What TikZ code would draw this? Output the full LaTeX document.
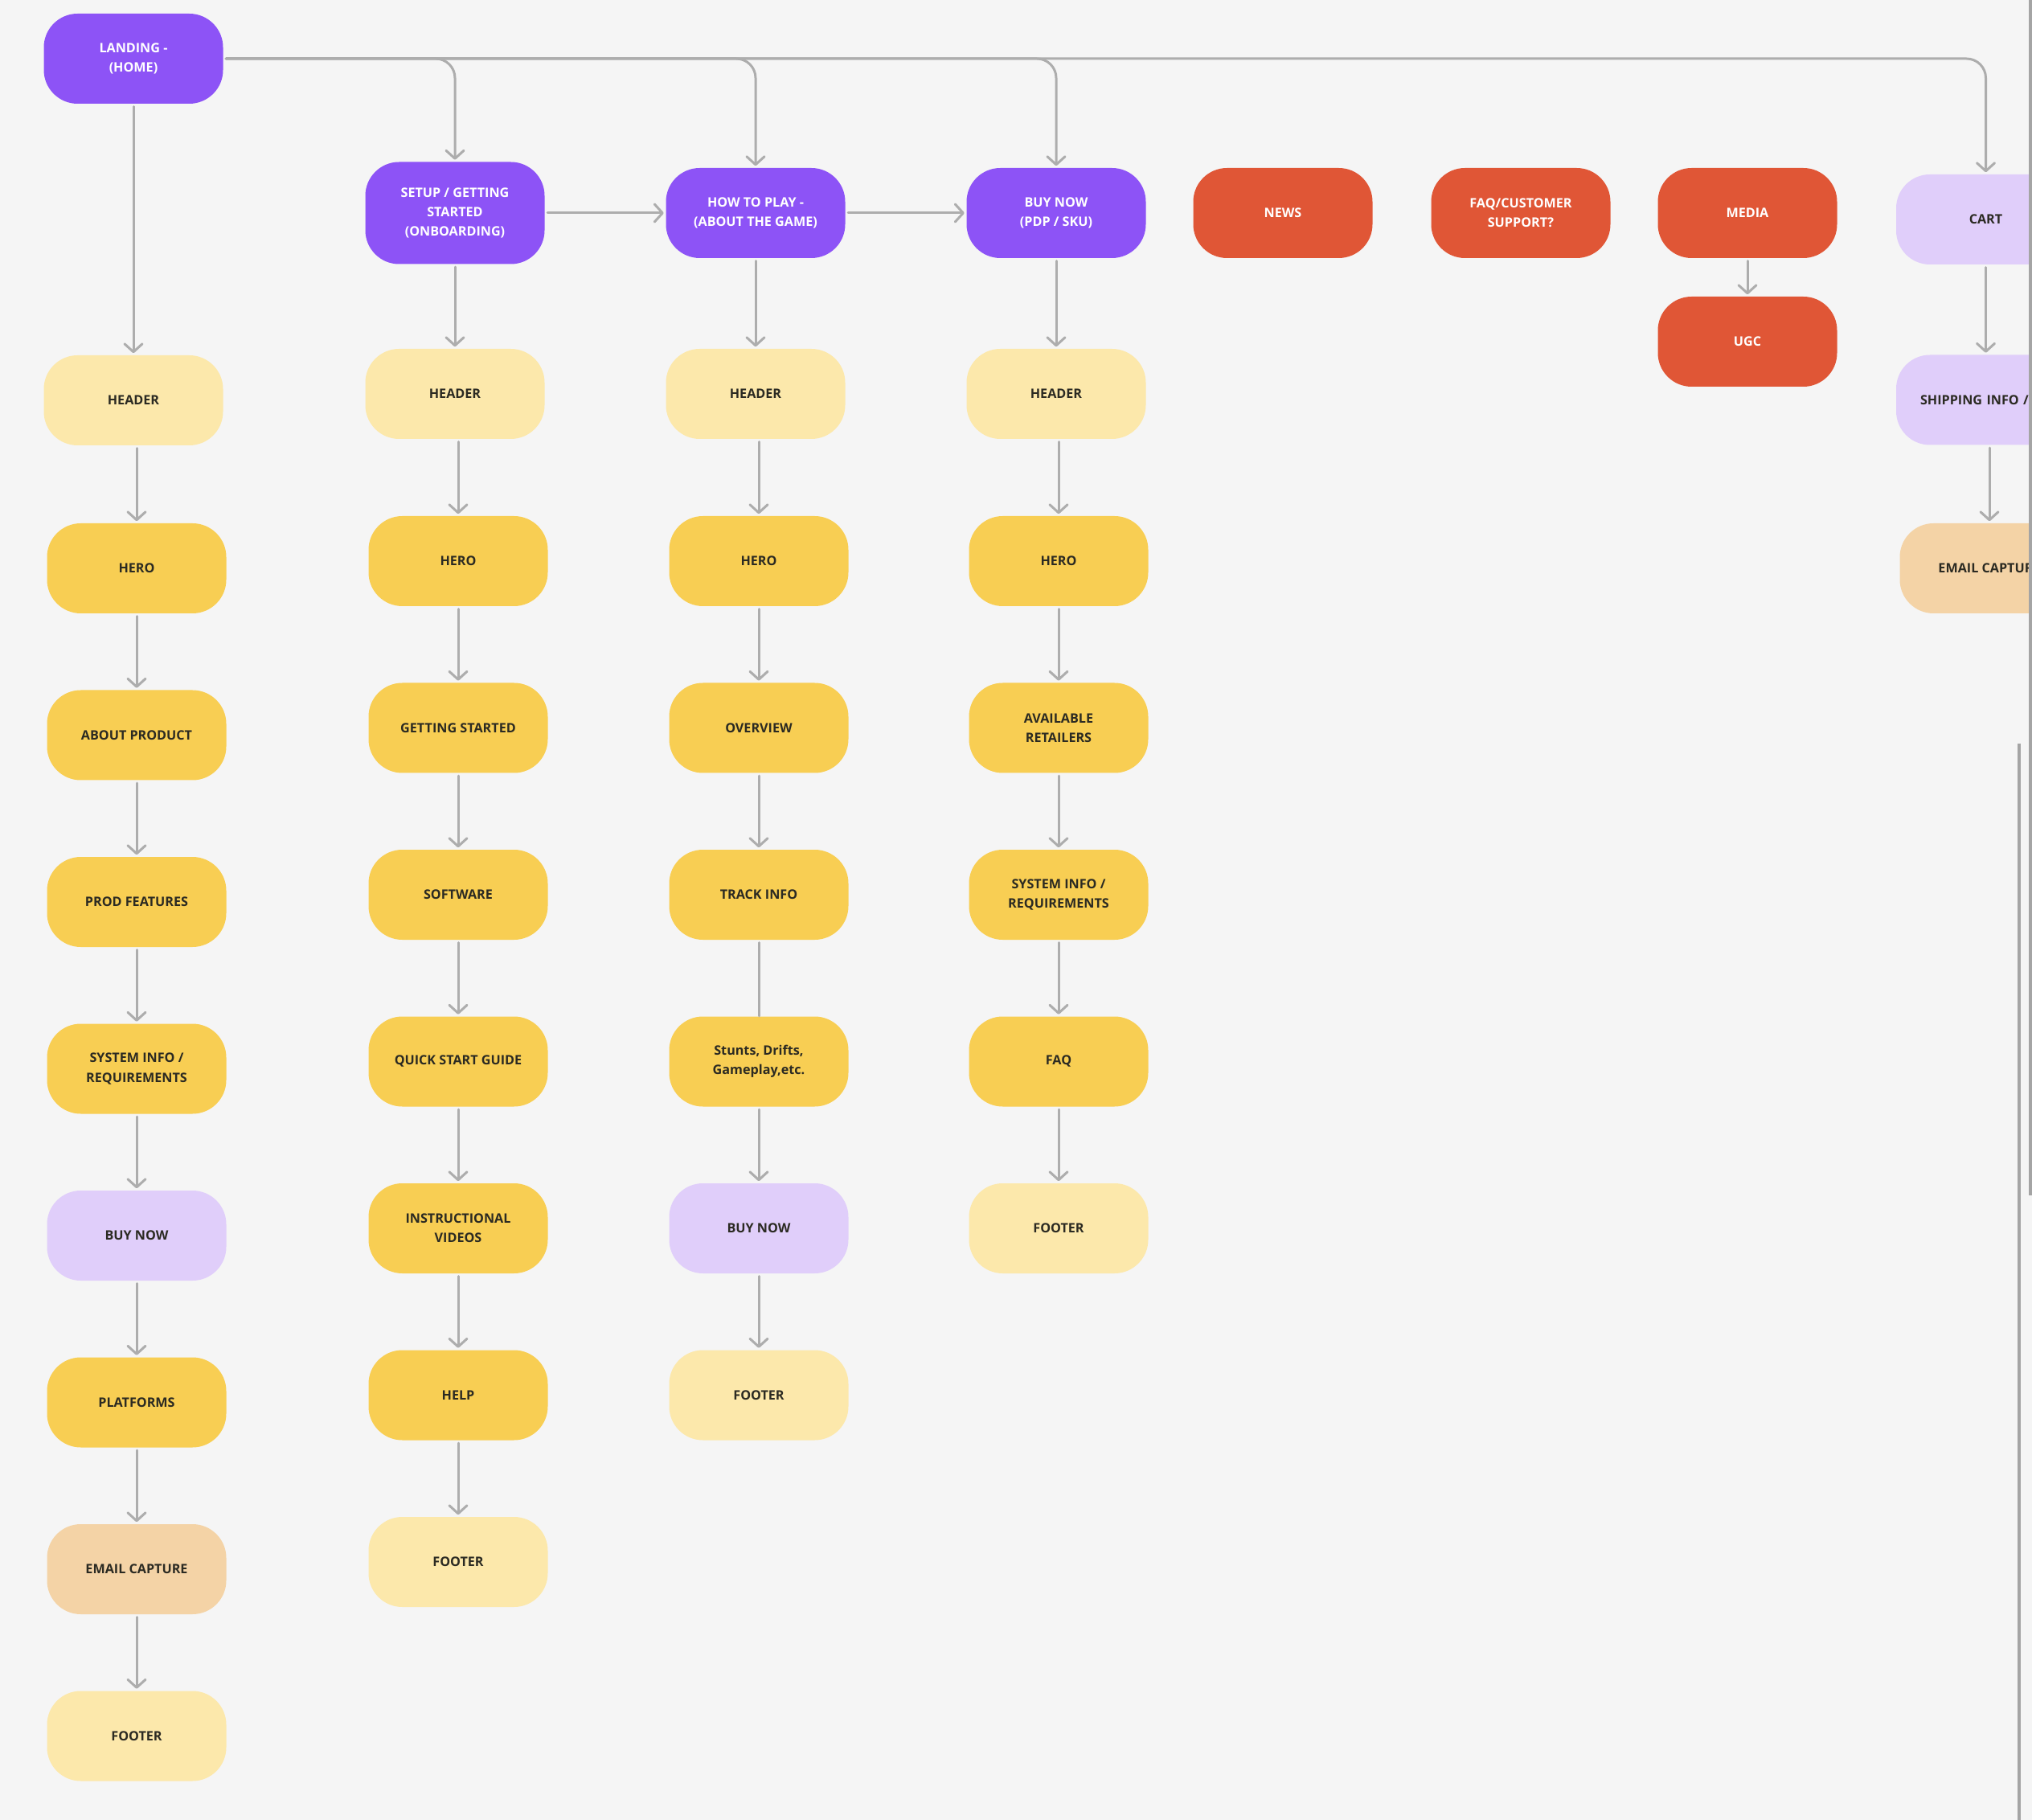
\documentclass[tikz,border=0pt]{standalone}
\usepackage{fontspec}
\usepackage{xcolor}
\usetikzlibrary{arrows.meta}
\newfontfamily\uifont{Open Sans}

\definecolor{canvas}{HTML}{F5F5F5}
\definecolor{violet}{HTML}{8D53F6}
\definecolor{brick}{HTML}{E05636}
\definecolor{pale}{HTML}{FCE8AB}
\definecolor{mustard}{HTML}{F8CE53}
\definecolor{lilac}{HTML}{E0CEFA}
\definecolor{peach}{HTML}{F4D3A6}
\definecolor{wire}{HTML}{ADADAD}
\definecolor{ink}{HTML}{2B2A22}

\tikzset{
  box/.style={rounded corners=0.42cm, minimum width=2.23cm, minimum height=1.12cm,
    inner sep=0pt, align=center, text=ink,
    font=\uifont\bfseries\fontsize{4.6}{6.9}\selectfont},
  pagebox/.style={box, fill=violet, text=white},
  hotbox/.style={box, fill=brick, text=white},
  palebox/.style={box, fill=pale},
  secbox/.style={box, fill=mustard},
  buybox/.style={box, fill=lilac},
  mailbox/.style={box, fill=peach},
  wireline/.style={draw=wire, line width=0.03cm, line cap=round, shorten <=0.03cm, shorten >=0.02cm},
  link/.style={wireline, -{Straight Barb[length=0.1cm,width=0.22cm,round]}},
}

\begin{document}
\begin{tikzpicture}
\useasboundingbox (0,0) rectangle (25.28,-22.64);
\clip (0,0) rectangle (25.28,-22.64);
\fill[canvas] (0,0) rectangle (25.28,-22.64);

% top level pages
\node[pagebox] (landing) at (1.66,-0.73) {LANDING -\\(HOME)};
\node[pagebox,minimum height=1.27cm] (setup) at (5.66,-2.65) {SETUP / GETTING\\STARTED\\(ONBOARDING)};
\node[pagebox] (howto) at (9.40,-2.65) {HOW TO PLAY -\\(ABOUT THE GAME)};
\node[pagebox] (pdp) at (13.14,-2.65) {BUY NOW\\(PDP / SKU)};
\node[hotbox] (news) at (15.96,-2.65) {NEWS};
\node[hotbox] (support) at (18.92,-2.65) {FAQ/CUSTOMER\\SUPPORT?};
\node[hotbox] (media) at (21.74,-2.65) {MEDIA};
\node[hotbox] (ugc) at (21.74,-4.25) {UGC};
\node[buybox] (cart) at (24.705,-2.73) {CART};
\node[buybox,text width=1.63cm,align=left] (ship) at (24.705,-4.975) {SHIPPING INFO / F};
\node[mailbox] (cartmail) at (24.75,-7.07) {EMAIL CAPTURE};

% landing sections
\node[palebox] (lhead) at (1.66,-4.98) {HEADER};
\node[secbox] (lhero) at (1.70,-7.07) {HERO};
\node[secbox] (labout) at (1.70,-9.145) {ABOUT PRODUCT};
\node[secbox] (lfeat) at (1.70,-11.22) {PROD FEATURES};
\node[secbox] (lsys) at (1.70,-13.295) {SYSTEM INFO /\\REQUIREMENTS};
\node[buybox] (lbuy) at (1.70,-15.37) {BUY NOW};
\node[secbox] (lplat) at (1.70,-17.445) {PLATFORMS};
\node[mailbox] (lmail) at (1.70,-19.52) {EMAIL CAPTURE};
\node[palebox] (lfoot) at (1.70,-21.595) {FOOTER};

% setup sections
\node[palebox] (shead) at (5.66,-4.90) {HEADER};
\node[secbox] (shero) at (5.70,-6.98) {HERO};
\node[secbox] (sstart) at (5.70,-9.055) {GETTING STARTED};
\node[secbox] (ssoft) at (5.70,-11.13) {SOFTWARE};
\node[secbox] (squick) at (5.70,-13.205) {QUICK START GUIDE};
\node[secbox] (svid) at (5.70,-15.28) {INSTRUCTIONAL\\VIDEOS};
\node[secbox] (shelp) at (5.70,-17.355) {HELP};
\node[palebox] (sfoot) at (5.70,-19.43) {FOOTER};

% how to play sections
\node[palebox] (phead) at (9.40,-4.90) {HEADER};
\node[secbox] (phero) at (9.44,-6.98) {HERO};
\node[secbox] (pover) at (9.44,-9.055) {OVERVIEW};
\node[secbox] (ptrack) at (9.44,-11.13) {TRACK INFO};
\node[secbox] (pstunt) at (9.44,-13.205) {Stunts, Drifts,\\Gameplay,etc.};
\node[buybox] (pbuy) at (9.44,-15.28) {BUY NOW};
\node[palebox] (pfoot) at (9.44,-17.355) {FOOTER};

% buy now sections
\node[palebox] (bhead) at (13.14,-4.90) {HEADER};
\node[secbox] (bhero) at (13.17,-6.98) {HERO};
\node[secbox] (bshop) at (13.17,-9.055) {AVAILABLE\\RETAILERS};
\node[secbox] (bsys) at (13.17,-11.13) {SYSTEM INFO /\\REQUIREMENTS};
\node[secbox] (bfaq) at (13.17,-13.205) {FAQ};
\node[palebox] (bfoot) at (13.17,-15.28) {FOOTER};

% links from landing
\draw[link] (landing) -- (lhead);
\draw[link,rounded corners=0.24cm] (landing.east) -| (setup.north);
\draw[link,rounded corners=0.24cm] (landing.east) -| (howto.north);
\draw[link,rounded corners=0.24cm] (landing.east) -| (pdp.north);
\draw[link,rounded corners=0.24cm] (landing.east) -| (cart.north);
\draw[link] (setup) -- (howto);
\draw[link] (howto) -- (pdp);
\draw[link] (media) -- (ugc);
\draw[link] (cart) -- (ship);
\draw[link] (ship.south -| cartmail.north) -- (cartmail.north);

% section chains
\foreach \a/\b in {lhead/lhero,lhero/labout,labout/lfeat,lfeat/lsys,lsys/lbuy,lbuy/lplat,lplat/lmail,lmail/lfoot,
  setup/shead,shead/shero,shero/sstart,sstart/ssoft,ssoft/squick,squick/svid,svid/shelp,shelp/sfoot,
  howto/phead,phead/phero,phero/pover,pover/ptrack,pstunt/pbuy,pbuy/pfoot,
  pdp/bhead,bhead/bhero,bhero/bshop,bshop/bsys,bsys/bfaq,bfaq/bfoot}
  \draw[link] (\a.south -| \b.north) -- (\b.north);
\draw[wireline,shorten >=0pt] (ptrack) -- (pstunt);

% scroll bars
\draw[wire!95!black,line width=0.04cm] (25.12,-9.25) -- (25.12,-22.64);
\draw[wire!95!black,line width=0.04cm] (25.26,0) -- (25.26,-14.87);
\end{tikzpicture}
\end{document}
